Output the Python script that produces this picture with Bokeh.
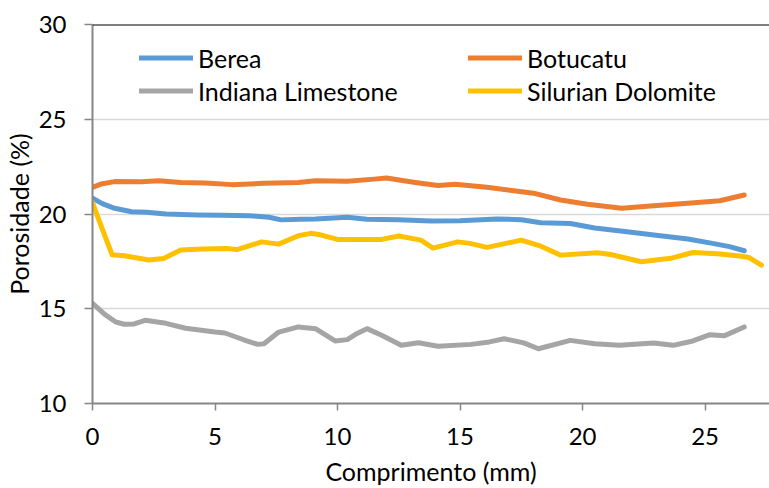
from bokeh.plotting import figure
from bokeh.models import Range1d, Span, Legend, LegendItem, FixedTicker
from bokeh.embed import file_html
from bokeh.resources import INLINE

# ---- data ----
berea_x = [0, 0.4, 0.9, 1.6, 2.2, 3.0, 4.3, 5.3, 6.4, 7.2, 7.7, 8.5, 9.1, 10.4, 11.2, 12.5,
           13.8, 15.0, 16.5, 17.5, 18.3, 19.5, 20.5, 21.9, 23.0, 24.3, 25.3, 26.0, 26.6]
berea_y = [20.83, 20.55, 20.3, 20.12, 20.09, 20.0, 19.95, 19.93, 19.91, 19.83, 19.69, 19.72,
           19.74, 19.83, 19.72, 19.7, 19.63, 19.65, 19.74, 19.7, 19.54, 19.5, 19.26, 19.05,
           18.88, 18.68, 18.45, 18.28, 18.06]

botucatu_x = [0, 0.4, 0.9, 2.0, 2.7, 3.6, 4.6, 5.7, 7.0, 8.4, 9.1, 10.4, 11.5, 12.0, 12.7,
              13.4, 14.1, 14.8, 16.1, 17.2, 18.0, 19.1, 20.2, 21.6, 22.9, 24.3, 25.6, 26.6]
botucatu_y = [21.41, 21.6, 21.71, 21.7, 21.75, 21.66, 21.63, 21.55, 21.62, 21.66, 21.75, 21.73,
              21.84, 21.9, 21.75, 21.62, 21.5, 21.57, 21.41, 21.23, 21.1, 20.74, 20.51, 20.3,
              20.44, 20.57, 20.7, 21.0]

indiana_x = [0, 0.5, 0.95, 1.3, 1.7, 2.15, 3.0, 3.8, 5.0, 5.4, 6.2, 6.75, 7.0, 7.6, 8.4, 9.1,
             9.9, 10.4, 10.8, 11.2, 11.8, 12.6, 13.3, 14.1, 15.45, 16.2, 16.8, 17.6, 18.2,
             19.5, 20.5, 21.5, 22.9, 23.7, 24.5, 25.2, 25.8, 26.6]
indiana_y = [15.28, 14.7, 14.3, 14.18, 14.2, 14.39, 14.23, 13.97, 13.77, 13.72, 13.35, 13.12,
             13.15, 13.77, 14.04, 13.95, 13.3, 13.37, 13.7, 13.95, 13.6, 13.07, 13.21, 13.02,
             13.12, 13.25, 13.42, 13.2, 12.89, 13.33, 13.15, 13.07, 13.19, 13.07, 13.3, 13.63,
             13.58, 14.04]

silurian_x = [0, 0.4, 0.8, 1.3, 2.3, 2.9, 3.6, 4.5, 5.5, 5.9, 6.9, 7.6, 8.4, 8.9, 9.3, 10.0,
              11.8, 12.5, 13.4, 13.9, 14.9, 15.4, 16.1, 17.5, 18.3, 19.1, 20.6, 21.2, 22.4,
              23.6, 24.5, 25.5, 26.4, 26.8, 27.3]
silurian_y = [20.6, 19.2, 17.85, 17.8, 17.57, 17.65, 18.1, 18.15, 18.18, 18.12, 18.53, 18.41,
              18.85, 18.98, 18.9, 18.66, 18.66, 18.84, 18.62, 18.2, 18.53, 18.45, 18.24, 18.62,
              18.3, 17.83, 17.95, 17.85, 17.48, 17.66, 17.97, 17.9, 17.78, 17.7, 17.3]

series_names = ["Berea", "Botucatu", "Indiana Limestone", "Silurian Dolomite"]
x_ticks = [0, 5, 10, 15, 20, 25]
y_ticks = [10, 15, 20, 25, 30]

FONT = "Lato"
TICK_FS = "24px"
LABEL_FS = "25px"
AXIS_GREY = "#868686"

p = figure(width=769, height=488, output_backend="svg", toolbar_location=None,
           x_range=Range1d(0, 27.63), y_range=Range1d(10, 30),
           min_border_left=90, min_border_right=0, min_border_top=24, min_border_bottom=85)
p.outline_line_color = None
p.background_fill_color = "white"
p.border_fill_color = "white"

p.xgrid.grid_line_color = None
p.ygrid.grid_line_color = "#d9d9d9"
p.ygrid.grid_line_width = 1.5

for ax in (p.xaxis[0], p.yaxis[0]):
    ax.axis_line_color = AXIS_GREY
    ax.axis_line_width = 2
    ax.major_tick_line_color = AXIS_GREY
    ax.major_tick_line_width = 1.5
    ax.minor_tick_line_color = None
    ax.major_tick_in = 0
    ax.major_label_text_font = FONT
    ax.major_label_text_font_size = TICK_FS
    ax.major_label_text_color = "black"
    ax.axis_label_text_font = FONT
    ax.axis_label_text_font_size = LABEL_FS
    ax.axis_label_text_font_style = "normal"
    ax.axis_label_text_color = "black"
    ax.axis_label_text_line_height = 1.0

p.xaxis[0].ticker = FixedTicker(ticks=x_ticks)
p.yaxis[0].ticker = FixedTicker(ticks=y_ticks)
p.xaxis[0].major_tick_out = 7
p.yaxis[0].major_tick_out = 8
p.xaxis[0].major_label_standoff = 17
p.yaxis[0].major_label_standoff = 18
p.xaxis[0].axis_label = "Comprimento (mm)"
p.yaxis[0].axis_label = "Porosidade (%)"
p.xaxis[0].axis_label_standoff = 8
p.yaxis[0].axis_label_standoff = 2

# top border line of the plot area
p.add_layout(Span(location=30, dimension="width", line_color="black", line_width=2))

colors = ["#5B9BD5", "#ED7D31", "#A5A5A5", "#FFC000"]
xs = [berea_x, botucatu_x, indiana_x, silurian_x]
ys = [berea_y, botucatu_y, indiana_y, silurian_y]
renderers = []
for x, y, c in zip(xs, ys, colors):
    r = p.line(x, y, line_color=c, line_width=5, line_join="round", line_cap="round")
    renderers.append(r)

def make_legend(idx, loc):
    leg = Legend(items=[LegendItem(label=series_names[i], renderers=[renderers[i]]) for i in idx],
                 location=loc, orientation="vertical")
    leg.border_line_color = None
    leg.background_fill_alpha = 0
    leg.padding = 0
    leg.margin = 0
    leg.spacing = 0
    leg.glyph_width = 54
    leg.glyph_height = 33
    leg.label_height = 33
    leg.label_standoff = 5
    leg.label_text_font = FONT
    leg.label_text_font_size = LABEL_FS
    leg.label_text_color = "black"
    return leg

p.add_layout(make_legend([0, 2], (47, 296)))
p.add_layout(make_legend([1, 3], (376, 296)))

open("out.html", "w").write(file_html(p, INLINE))
